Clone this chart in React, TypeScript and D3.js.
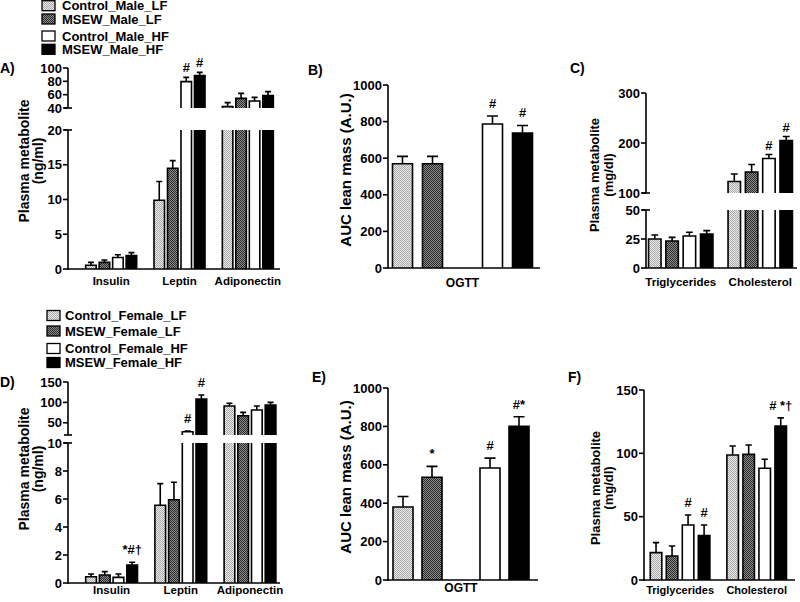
import React from 'react';
import * as d3 from 'd3';

// ---------- data ----------
const seriesMale = ["Control_Male_LF", "MSEW_Male_LF", "Control_Male_HF", "MSEW_Male_HF"];
const seriesFemale = ["Control_Female_LF", "MSEW_Female_LF", "Control_Female_HF", "MSEW_Female_HF"];
const seriesFills = ["url(#pLight)", "url(#pDark)", "#ffffff", "#000000"];

const adipokines = ["Insulin", "Leptin", "Adiponectin"];
const lipids = ["Triglycerides", "Cholesterol"];
const ogtt = ["OGTT"];

// means [category][series], SEM [category][series]
const maleAdipokineMean = [[0.55, 0.95, 1.65, 1.95], [9.9, 14.5, 79.5, 88.5], [42, 54.5, 50.5, 58.5]];
const maleAdipokineSem = [[0.4, 0.35, 0.4, 0.4], [2.7, 1.1, 6.5, 5], [6, 7.5, 5.5, 6]];
const maleOgttMean = [[570, 570, 787, 737]];
const maleOgttSem = [[40, 40, 44, 42]];
const maleLipidMean = [[25, 23.3, 27.6, 29.3], [123, 142, 169, 205]];
const maleLipidSem = [[3.4, 3.1, 3.2, 2.9], [15, 15, 8, 8]];

const femaleAdipokineMean = [[0.45, 0.57, 0.4, 1.29], [5.55, 5.95, 28, 108], [91, 67.4, 81.3, 93.6]];
const femaleAdipokineSem = [[0.19, 0.24, 0.24, 0.19], [1.55, 1.25, 1.5, 10], [6.7, 8.2, 9.7, 6.4]];
const femaleOgttMean = [[380, 535, 583, 800]];
const femaleOgttSem = [[55, 57, 52, 50]];
const femaleLipidMean = [[21.6, 19, 43.4, 35], [98.7, 99.2, 88.2, 121.6]];
const femaleLipidSem = [[7.9, 7.8, 7.9, 8.4], [7.1, 7.4, 7.1, 6.4]];

// axis segments (broken axes) and tick labels
const ticksALow = [0, 5, 10, 15, 20];
const ticksAHigh = [40, 60, 80, 100];
const ticksB = [0, 200, 400, 600, 800, 1000];
const ticksCLow = [0, 25, 50];
const ticksCHigh = [100, 200, 300];
const ticksDLow = [0, 2, 4, 6, 8, 10];
const ticksDHigh = [50, 100, 150];
const ticksE = [0, 200, 400, 600, 800, 1000];
const ticksF = [0, 50, 100, 150];

// significance marks: [category, series, text]
const marksA: [number, number, string][] = [[1, 2, "#"], [1, 3, "#"]];
const marksB: [number, number, string][] = [[0, 2, "#"], [0, 3, "#"]];
const marksC: [number, number, string][] = [[1, 2, "#"], [1, 3, "#"]];
const marksD: [number, number, string][] = [[0, 3, "*#†"], [1, 2, "#"], [1, 3, "#"]];
const marksE: [number, number, string][] = [[0, 1, "*"], [0, 2, "#"], [0, 3, "#*"]];
const marksF: [number, number, string][] = [[0, 2, "#"], [0, 3, "#"], [1, 3, "# *†"]];

const FONT = "'Liberation Sans', Arial, Helvetica, sans-serif";

type Seg = { domain: [number, number]; range: [number, number]; ticks: number[] };

type PanelProps = {
  letter: string;
  letterPos: [number, number];
  x0: number;
  xEnd: number;
  segs: Seg[];
  categories: string[];
  groupRange: [number, number];
  innerHalf: number;
  innerPad: number;
  gap?: boolean;
  means: number[][];
  sems: number[][];
  marks: [number, number, string][];
  labelY: number;
  labelSize: number;
  titles: string[];
  titleX: number[];
  titleY: number;
  titleSize: number;
  markOffset?: number;
};

function Panel(p: PanelProps) {
  const scales = p.segs.map(s => d3.scaleLinear().domain(s.domain).range(s.range));
  const outer = d3.scaleBand<string>().domain(p.categories).range(p.groupRange).padding(0);
  const innerDomain = p.gap ? ["s0", "s1", "gap", "s2", "s3"] : ["s0", "s1", "s2", "s3"];
  const inner = d3.scaleBand<string>().domain(innerDomain).range([-p.innerHalf, p.innerHalf]).paddingInner(p.innerPad).paddingOuter(0);
  const bw = inner.bandwidth();
  const yAxis = scales[0](0);
  const sw = 1.6;

  const segOf = (v: number) => {
    for (let i = 0; i < p.segs.length; i++) {
      const [a, b] = p.segs[i].domain;
      if (v >= a && v <= b) return i;
    }
    return p.segs.length - 1;
  };

  const bars: React.ReactNode[] = [];
  p.categories.forEach((cat, ci) => {
    const cx = (outer(cat) as number) + outer.bandwidth() / 2;
    p.means[ci].forEach((m, si) => {
      const x = cx + (inner("s" + si) as number);
      const fill = seriesFills[si];
      p.segs.forEach((s, k) => {
        if (m <= s.domain[0]) return;
        const top = Math.min(m, s.domain[1]);
        const clipped = m > s.domain[1];
        const yb = scales[k](s.domain[0]);
        const yt = scales[k](top);
        bars.push(<rect key={`r${ci}-${si}-${k}`} x={x} y={yt} width={bw} height={yb - yt} fill={fill} />);
        const d = clipped
          ? `M${x},${yb}V${yt}M${x + bw},${yt}V${yb}`
          : `M${x},${yb}V${yt}H${x + bw}V${yb}`;
        bars.push(<path key={`o${ci}-${si}-${k}`} d={d} fill="none" stroke="#000" strokeWidth={sw} />);
      });
      // error bar
      const e = m + p.sems[ci][si];
      const k = segOf(e);
      const sc = scales[k];
      const ym = sc(Math.max(m, p.segs[k].domain[0]));
      const ye = sc(e);
      const xc = x + bw / 2;
      const cap = Math.max(6, bw * 0.55);
      bars.push(
        <path key={`e${ci}-${si}`} d={`M${xc},${ym}V${ye}M${xc - cap / 2},${ye}H${xc + cap / 2}`} stroke="#000" strokeWidth={sw} fill="none" />
      );
    });
  });

  const marks = p.marks.map(([ci, si, t], i) => {
    const cat = p.categories[ci];
    const cx = (outer(cat) as number) + outer.bandwidth() / 2 + (inner("s" + si) as number) + bw / 2;
    const e = p.means[ci][si] + p.sems[ci][si];
    const y = scales[segOf(e)](e) - (p.markOffset ?? 6);
    return <text key={`m${i}`} x={cx} y={y} textAnchor="middle" fontSize={13} fontWeight="bold">{t}</text>;
  });

  const axis: React.ReactNode[] = [];
  p.segs.forEach((s, k) => {
    const sc = scales[k];
    axis.push(<line key={`al${k}`} x1={p.x0} x2={p.x0} y1={sc(s.domain[0]) + (k === 0 ? sw / 2 : 0)} y2={sc(s.domain[1])} stroke="#000" strokeWidth={sw} />);
    s.ticks.forEach(t => {
      axis.push(<line key={`t${k}-${t}`} x1={p.x0 - 5} x2={p.x0} y1={sc(t)} y2={sc(t)} stroke="#000" strokeWidth={sw} />);
      axis.push(<text key={`tl${k}-${t}`} x={p.x0 - 6} y={sc(t)} dy="0.36em" textAnchor="end" fontSize={13} fontWeight="bold">{t}</text>);
    });
    if (p.segs.length > 1) {
      if (k > 0) axis.push(<line key={`bk${k}`} x1={p.x0 - 4} x2={p.x0 + 4} y1={sc(s.domain[0])} y2={sc(s.domain[0])} stroke="#000" strokeWidth={sw} />);
      if (k < p.segs.length - 1) axis.push(<line key={`bt${k}`} x1={p.x0 - 4} x2={p.x0 + 4} y1={sc(s.domain[1])} y2={sc(s.domain[1])} stroke="#000" strokeWidth={sw} />);
    }
  });
  axis.push(<line key="xa" x1={p.x0} x2={p.xEnd} y1={yAxis} y2={yAxis} stroke="#000" strokeWidth={sw} />);

  const labels = p.categories.map(c => (
    <text key={`xl${c}`} x={(outer(c) as number) + outer.bandwidth() / 2} y={p.labelY} textAnchor="middle" fontSize={p.labelSize} fontWeight="bold">{c}</text>
  ));

  const titles = p.titles.map((t, i) => (
    <text key={`ti${i}`} transform={`translate(${p.titleX[i]},${p.titleY}) rotate(-90)`} textAnchor="middle" dominantBaseline="central" fontSize={p.titleSize} fontWeight="bold">{t}</text>
  ));

  return (
    <g>
      <text x={p.letterPos[0]} y={p.letterPos[1]} fontSize={14} fontWeight="bold">{p.letter}</text>
      {bars}
      {axis}
      {marks}
      {labels}
      {titles}
    </g>
  );
}

function Legend({ names, x, textX, baselines }: { names: string[]; x: number; textX: number; baselines: number[] }) {
  return (
    <g>
      {names.map((n, i) => (
        <g key={n}>
          <rect x={x} y={baselines[i] - 9.5} width={13} height={10} fill={seriesFills[i]} stroke="#000" strokeWidth={1.3} />
          <text x={textX} y={baselines[i]} fontSize={13} fontWeight="bold">{n}</text>
        </g>
      ))}
    </g>
  );
}

export default function App() {
  return (
    <svg width={800} height={602} style={{ position: 'absolute', left: 0, top: 0, background: '#fff' }} fontFamily={FONT}>
      <defs>
        <pattern id="pLight" width={2} height={2} patternUnits="userSpaceOnUse">
          <rect width={2} height={2} fill="#ececec" />
          <rect x={0} y={0} width={1} height={1} fill="#a8a8a8" />
          <rect x={1} y={1} width={1} height={1} fill="#a8a8a8" />
        </pattern>
        <pattern id="pDark" width={2} height={2} patternUnits="userSpaceOnUse">
          <rect width={2} height={2} fill="#8c8c8c" />
          <rect x={0} y={0} width={1} height={1} fill="#2a2a2a" />
          <rect x={1} y={1} width={1} height={1} fill="#2a2a2a" />
        </pattern>
      </defs>
      <rect width={800} height={602} fill="#fff" />

      <Legend names={seriesMale} x={42} textX={62} baselines={[10.2, 23.5, 40.5, 53.8]} />
      <Legend names={seriesFemale} x={47} textX={65} baselines={[320, 335.5, 353, 367]} />

      {/* A */}
      <Panel letter="A)" letterPos={[0, 73]} x0={68} xEnd={280}
        segs={[{ domain: [0, 20], range: [269, 130], ticks: ticksALow }, { domain: [40, 100], range: [108, 68], ticks: ticksAHigh }]}
        categories={adipokines} groupRange={[77, 282]} innerHalf={25.5} innerPad={0.22}
        means={maleAdipokineMean} sems={maleAdipokineSem} marks={marksA}
        labelY={285} labelSize={11.5}
        titles={["Plasma metabolite", "(ng/ml)"]} titleX={[24, 38]} titleY={161} titleSize={14} markOffset={5} />

      {/* B */}
      <Panel letter="B)" letterPos={[308, 75]} x0={388} xEnd={540}
        segs={[{ domain: [0, 1000], range: [268, 85], ticks: ticksB }]}
        categories={ogtt} groupRange={[385, 540]} innerHalf={70} innerPad={1 / 3} gap
        means={maleOgttMean} sems={maleOgttSem} marks={marksB}
        labelY={287} labelSize={12}
        titles={["AUC lean mass (A.U.)"]} titleX={[345]} titleY={170} titleSize={15} markOffset={8} />

      {/* C */}
      <Panel letter="C)" letterPos={[570, 73]} x0={646} xEnd={797}
        segs={[{ domain: [0, 50], range: [268, 210], ticks: ticksCLow }, { domain: [100, 300], range: [193, 93], ticks: ticksCHigh }]}
        categories={lipids} groupRange={[641, 800]} innerHalf={32.2} innerPad={0.28}
        means={maleLipidMean} sems={maleLipidSem} marks={marksC}
        labelY={286} labelSize={11.5}
        titles={["Plasma metabolite", "(mg/dl)"]} titleX={[594, 608]} titleY={175} titleSize={13} markOffset={5} />

      {/* D */}
      <Panel letter="D)" letterPos={[0, 387]} x0={68} xEnd={280}
        segs={[{ domain: [0, 10], range: [583, 443], ticks: ticksDLow }, { domain: [20, 150], range: [435, 382], ticks: ticksDHigh }]}
        categories={adipokines} groupRange={[77, 284.6]} innerHalf={25.9} innerPad={0.22}
        means={femaleAdipokineMean} sems={femaleAdipokineSem} marks={marksD}
        labelY={594} labelSize={11.5}
        titles={["Plasma metabolite", "(ng/ml)"]} titleX={[24, 38]} titleY={469} titleSize={14} markOffset={8} />

      {/* E */}
      <Panel letter="E)" letterPos={[312, 382]} x0={388} xEnd={538}
        segs={[{ domain: [0, 1000], range: [580, 388], ticks: ticksE }]}
        categories={ogtt} groupRange={[384, 538]} innerHalf={68} innerPad={0.31} gap
        means={femaleOgttMean} sems={femaleOgttSem} marks={marksE}
        labelY={592} labelSize={12}
        titles={["AUC lean mass (A.U.)"]} titleX={[345]} titleY={477} titleSize={15} markOffset={8} />

      {/* F */}
      <Panel letter="F)" letterPos={[568, 382]} x0={644} xEnd={795}
        segs={[{ domain: [0, 150], range: [580, 390], ticks: ticksF }]}
        categories={lipids} groupRange={[641.75, 795]} innerHalf={29.8} innerPad={0.28}
        means={femaleLipidMean} sems={femaleLipidSem} marks={marksF}
        labelY={594} labelSize={11}
        titles={["Plasma metabolite", "(mg/dl)"]} titleX={[595, 608]} titleY={488} titleSize={13} markOffset={8} />
    </svg>
  );
}
